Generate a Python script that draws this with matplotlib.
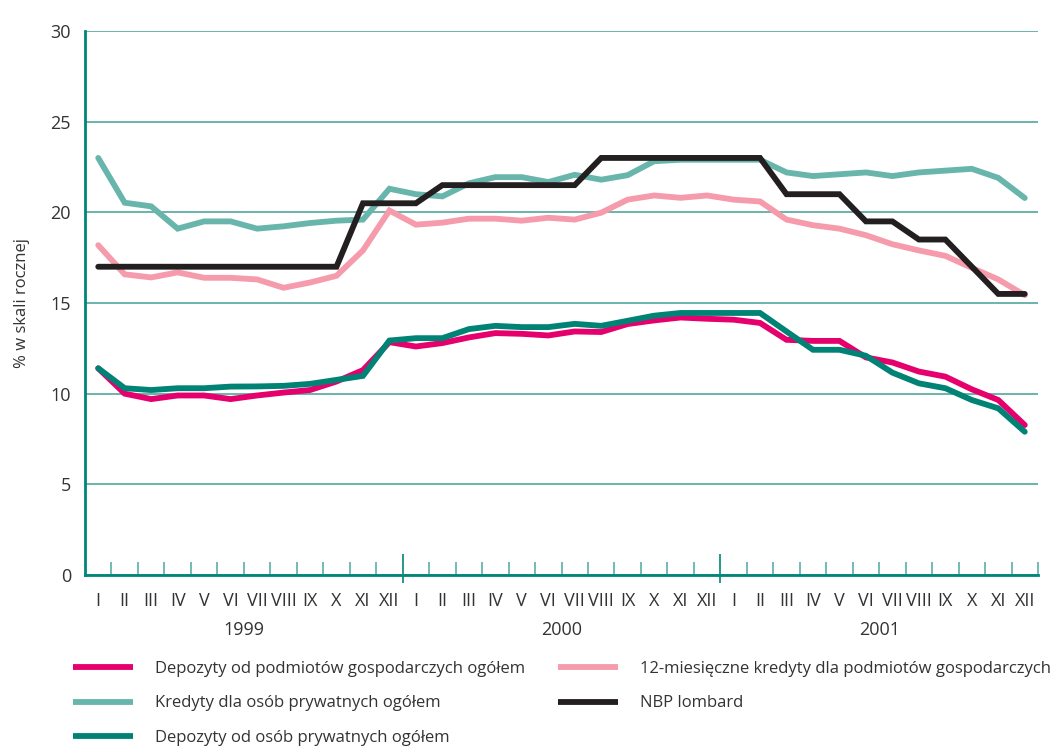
import matplotlib
matplotlib.use("Agg")
import matplotlib.pyplot as plt
from matplotlib.ticker import FixedLocator, FixedFormatter, NullFormatter
import numpy as np

plt.rcParams['font.family'] = ['Liberation Sans Narrow', 'Open Sans', 'DejaVu Sans']

months = ["I", "II", "III", "IV", "V", "VI", "VII", "VIII", "IX", "X", "XI", "XII"] * 3
years = ["1999", "2000", "2001"]

dep_podmiotow = [11.4, 10.0, 9.7, 9.9, 9.9, 9.7, 9.9, 10.06, 10.2, 10.67, 11.3, 12.84,
                 12.6, 12.79, 13.1, 13.34, 13.3, 13.21, 13.43, 13.4, 13.84, 14.04, 14.2, 14.13,
                 14.08, 13.9, 12.97, 12.91, 12.91, 12.0, 11.72, 11.22, 10.94, 10.24, 9.65, 8.27]
kred_osob = [23.0, 20.53, 20.33, 19.1, 19.5, 19.5, 19.1, 19.23, 19.41, 19.54, 19.6, 21.3,
             21.0, 20.88, 21.6, 21.94, 21.94, 21.67, 22.07, 21.8, 22.05, 22.82, 22.9, 22.9,
             22.9, 22.9, 22.2, 22.0, 22.1, 22.2, 22.0, 22.2, 22.3, 22.4, 21.9, 20.79]
dep_osob = [11.4, 10.3, 10.2, 10.3, 10.3, 10.39, 10.4, 10.43, 10.54, 10.76, 10.98, 12.93,
            13.06, 13.06, 13.56, 13.74, 13.67, 13.67, 13.85, 13.74, 14.02, 14.3, 14.45, 14.45,
            14.45, 14.45, 13.43, 12.42, 12.42, 12.09, 11.16, 10.57, 10.3, 9.65, 9.19, 7.9]
kred_12m = [18.19, 16.58, 16.41, 16.69, 16.39, 16.39, 16.3, 15.84, 16.13, 16.5, 17.9, 20.1,
            19.32, 19.43, 19.65, 19.65, 19.54, 19.7, 19.6, 19.98, 20.7, 20.93, 20.8, 20.93,
            20.7, 20.6, 19.6, 19.29, 19.1, 18.74, 18.24, 17.9, 17.6, 16.94, 16.3, 15.43]
lombard = [17.0, 17.0, 17.0, 17.0, 17.0, 17.0, 17.0, 17.0, 17.0, 17.0, 20.5, 20.5,
           20.5, 21.5, 21.5, 21.5, 21.5, 21.5, 21.5, 23.0, 23.0, 23.0, 23.0, 23.0,
           23.0, 23.0, 21.0, 21.0, 21.0, 19.5, 19.5, 18.5, 18.5, 17.0, 15.5, 15.5]

series = [
    ("Depozyty od podmiotów gospodarczych ogółem", dep_podmiotow, "#E6006E"),
    ("Kredyty dla osób prywatnych ogółem", kred_osob, "#68B5AC"),
    ("Depozyty od osób prywatnych ogółem", dep_osob, "#008375"),
    ("12-miesięczne kredyty dla podmiotów gospodarczych", kred_12m, "#F59BAB"),
    ("NBP lombard", lombard, "#231F20"),
]

text_col = "#333333"
grid_col = "#5FAEA5"
spine_col = "#00857A"

fig = plt.figure(figsize=(10.55, 7.49), dpi=100)
ax = fig.add_axes([85 / 1055, 1 - 575 / 749, (1038 - 85) / 1055, (575 - 31) / 749])

x = np.arange(len(months)) + 0.5
z = {"#231F20": 6, "#008375": 5}
handles = []
for name, vals, col in series:
    h, = ax.plot(x, vals, color=col, lw=4.2, solid_capstyle='round',
                 solid_joinstyle='miter', label=name, zorder=z.get(col, 3))
    handles.append(h)

ax.set_xlim(0, 36)
ax.set_ylim(0, 30)
ax.set_yticks([0, 5, 10, 15, 20, 25, 30])
ax.yaxis.grid(True, color=grid_col, lw=1.3)
ax.set_axisbelow(True)
for s in ["top", "right"]:
    ax.spines[s].set_visible(False)
for s in ["left", "bottom"]:
    ax.spines[s].set_color(spine_col)
    ax.spines[s].set_linewidth(2.0)
ax.tick_params(axis='y', length=0, pad=10, labelsize=13, labelcolor=text_col)
ax.set_ylabel("% w skali rocznej", fontsize=12, color=text_col, labelpad=15)

# month labels at centers, boundary ticks as minor ticks
ax.xaxis.set_major_locator(FixedLocator(list(x)))
ax.xaxis.set_major_formatter(FixedFormatter(months))
ax.tick_params(axis='x', which='major', length=0, pad=12, labelsize=13, labelcolor=text_col)
ax.xaxis.set_minor_locator(FixedLocator([b for b in range(1, 37) if b not in (12, 24)]))
ax.tick_params(axis='x', which='minor', direction='in', length=9.5, width=1.2, color=grid_col)

# year boundary ticks (up) and year labels
sec1 = ax.secondary_xaxis('bottom')
sec1.spines['bottom'].set_visible(False)
sec1.set_xticks([12, 24])
sec1.set_xticklabels([])
sec1.tick_params(axis='x', direction='in', length=15, width=1.2, color=spine_col)

sec2 = ax.secondary_xaxis('bottom')
sec2.spines['bottom'].set_visible(False)
sec2.set_xticks([12, 24])
sec2.xaxis.set_major_formatter(NullFormatter())
sec2.tick_params(axis='x', which='major', direction='out', length=6, width=1.2, color=spine_col)
sec2.xaxis.set_minor_locator(FixedLocator([6, 18, 30]))
sec2.xaxis.set_minor_formatter(FixedFormatter(years))
sec2.tick_params(axis='x', which='minor', length=0, pad=33, labelsize=13, labelcolor=text_col)

leg = fig.legend(handles=handles, loc='upper left', bbox_to_anchor=(73 / 1055, 1 - 661 / 749),
                 ncol=2, frameon=False, fontsize=12, handlelength=3.6, handletextpad=1.3,
                 columnspacing=2.0, labelspacing=1.1, borderpad=0, borderaxespad=0,
                 labelcolor=text_col)
for lh in leg.get_lines():
    lh.set_linewidth(4.2)
    lh.set_solid_capstyle('butt')

fig.savefig("out.png", dpi=100)
